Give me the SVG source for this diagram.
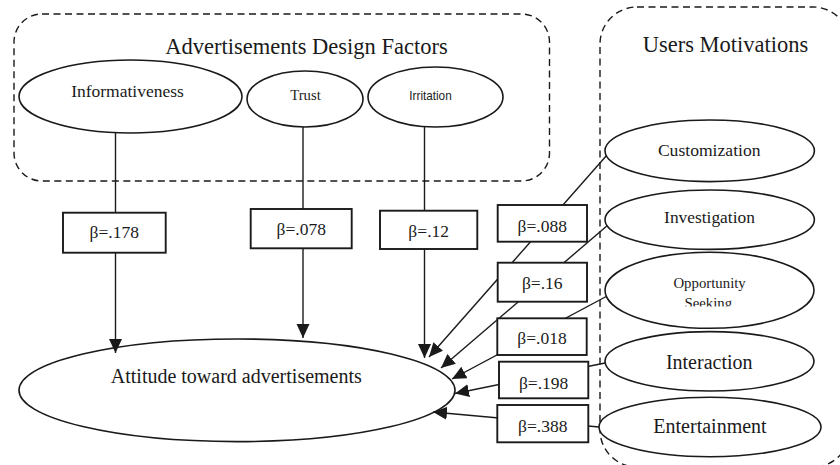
<svg xmlns="http://www.w3.org/2000/svg" width="840" height="465" viewBox="0 0 840 465">
  <style>
    .grp { fill: none; stroke: #1a1a1a; stroke-width: 1.4; stroke-dasharray: 7 4.5; }
    .node { fill: #ffffff; stroke: #1a1a1a; stroke-width: 1.6; }
    .box { fill: #ffffff; stroke: #1a1a1a; stroke-width: 1.9; }
    .edge { fill: none; stroke: #1a1a1a; stroke-width: 1.4; }
    text { font-family: "Liberation Serif", "Times New Roman", serif; fill: #1a1a1a; text-anchor: middle; }
    .title { font-size: 22.5px; }
    .beta { font-size: 17.5px; }
    .sans { font-family: "Liberation Sans", Arial, sans-serif; }
  </style>
  <defs>
    <marker id="arrow" markerUnits="userSpaceOnUse" markerWidth="15" markerHeight="14" refX="14" refY="6.5" orient="auto">
      <path d="M0,0 L14,6.5 L0,13 z" fill="#1a1a1a"/>
    </marker>
    <clipPath id="clip-opp">
      <rect x="600" y="250" width="220" height="56.5"/>
    </clipPath>
  </defs>

  <rect width="840" height="465" fill="#ffffff"/>

  <!-- group frames -->
  <g id="group-design">
    <rect class="grp" x="14" y="14" width="535.5" height="167" rx="28" ry="28"/>
    <text class="title" x="306.5" y="54">Advertisements Design Factors</text>
  </g>
  <g id="group-motivations">
    <rect class="grp" x="600" y="7" width="250" height="460" rx="37" ry="37"/>
    <text class="title" x="725.5" y="52">Users Motivations</text>
  </g>

  <!-- connectors -->
  <g id="connectors">
    <line class="edge" x1="115.5" y1="132.7" x2="115.5" y2="353" marker-end="url(#arrow)"/>
    <line class="edge" x1="303" y1="127" x2="303" y2="338" marker-end="url(#arrow)"/>
    <line class="edge" x1="424.5" y1="126.6" x2="424.5" y2="358" marker-end="url(#arrow)"/>
    <line class="edge" x1="607" y1="155" x2="429" y2="357" marker-end="url(#arrow)"/>
    <line class="edge" x1="608" y1="225" x2="441" y2="368" marker-end="url(#arrow)"/>
    <line class="edge" x1="609" y1="295" x2="452" y2="379" marker-end="url(#arrow)"/>
    <line class="edge" x1="605" y1="363" x2="455" y2="393.5" marker-end="url(#arrow)"/>
    <line class="edge" x1="599" y1="427" x2="433" y2="412" marker-end="url(#arrow)"/>
  </g>

  <!-- coefficient labels -->
  <g id="coefficients">
    <rect class="box" x="63" y="212.7" width="102.7" height="40"/>
    <text class="beta" x="114.3" y="238">β=.178</text>
    <rect class="box" x="250.7" y="209" width="101" height="39.3"/>
    <text class="beta" x="301.2" y="235">β=.078</text>
    <rect class="box" x="380" y="210.7" width="97.3" height="38.3"/>
    <text class="beta" x="428.7" y="237.3">β=.12</text>
    <rect class="box" x="497.7" y="205" width="89.3" height="36.7"/>
    <text class="beta" x="542.3" y="231.7">β=.088</text>
    <rect class="box" x="497.7" y="262.7" width="89.3" height="39"/>
    <text class="beta" x="542.3" y="289.3">β=.16</text>
    <rect class="box" x="497.3" y="318.3" width="89.4" height="36.7"/>
    <text class="beta" x="542" y="344.3">β=.018</text>
    <rect class="box" x="499" y="361.7" width="89.3" height="36.6"/>
    <text class="beta" x="543.6" y="389">β=.198</text>
    <rect class="box" x="497.3" y="405" width="91" height="37.3"/>
    <text class="beta" x="542.8" y="431.7">β=.388</text>
  </g>

  <!-- design factor nodes -->
  <g id="informativeness">
    <ellipse class="node" cx="130.5" cy="96.5" rx="111.5" ry="36.5"/>
    <text x="127.5" y="97" font-size="17.5">Informativeness</text>
  </g>
  <g id="trust">
    <ellipse class="node" cx="305" cy="99" rx="58" ry="28"/>
    <text x="305.5" y="100" font-size="14.7">Trust</text>
  </g>
  <g id="irritation">
    <ellipse class="node" cx="435.5" cy="97" rx="67.5" ry="30"/>
    <text class="sans" x="430.5" y="100" font-size="12.6" textLength="42.3" lengthAdjust="spacingAndGlyphs">Irritation</text>
  </g>

  <!-- outcome node -->
  <g id="attitude">
    <ellipse class="node" cx="237" cy="390.3" rx="218" ry="51.3" fill="none" style="fill:none"/>
    <text x="236.3" y="382.7" font-size="20">Attitude toward advertisements</text>
  </g>

  <!-- motivation nodes -->
  <g id="customization">
    <ellipse class="node" cx="709.7" cy="150.8" rx="104.7" ry="30.8"/>
    <text x="709.2" y="156" font-size="17.6">Customization</text>
  </g>
  <g id="investigation">
    <ellipse class="node" cx="709.7" cy="219.7" rx="104.7" ry="29.7"/>
    <text x="709.5" y="223.3" font-size="17.4">Investigation</text>
  </g>
  <g id="opportunity-seeking">
    <ellipse class="node" cx="709.5" cy="290.3" rx="104.5" ry="38"/>
    <g clip-path="url(#clip-opp)" font-size="14.8">
      <text x="709.6" y="288.3">Opportunity</text>
      <text x="708.3" y="307.5">Seeking</text>
    </g>
  </g>
  <g id="interaction">
    <ellipse class="node" cx="709.5" cy="361.3" rx="104.5" ry="29.7"/>
    <text x="709.2" y="369" font-size="20">Interaction</text>
  </g>
  <g id="entertainment">
    <ellipse class="node" cx="710" cy="427" rx="111" ry="29.7"/>
    <text x="710" y="433.3" font-size="20">Entertainment</text>
  </g>
</svg>
